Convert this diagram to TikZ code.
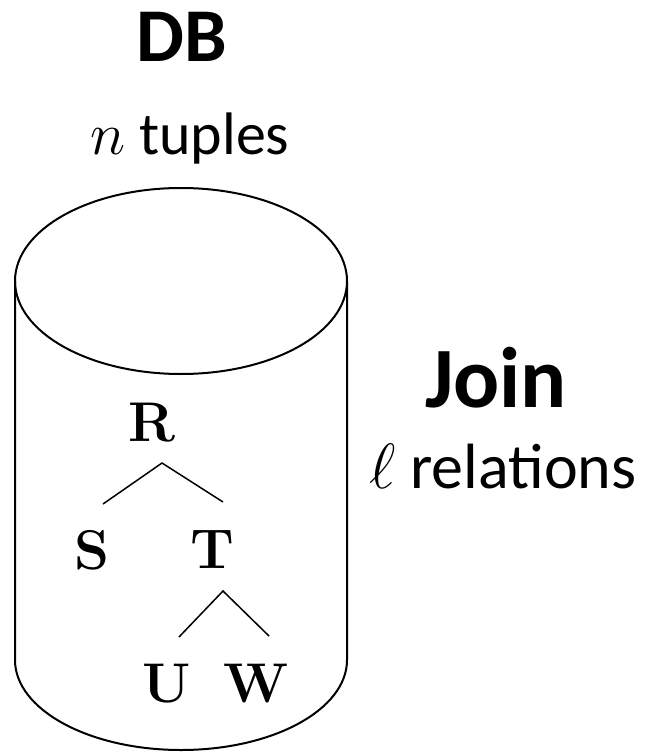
\RequirePackage{fix-cm}
\documentclass[tikz,border=0pt]{standalone}
\usepackage{fontspec}
\setmainfont{Carlito}
\newfontfamily\relfont{Latin Modern Roman}
\usepackage{tikz}
\usetikzlibrary{positioning}

\begin{document}
\begin{tikzpicture}[
  x=0.5pt, y=-0.5pt,
  title/.style={font=\fontsize{38}{40}\selectfont\bfseries, inner sep=0pt, anchor=base},
  caption/.style={font=\fontsize{30}{32}\selectfont, inner sep=0pt, anchor=base},
  rel/.style={font=\relfont\fontsize{28}{30}\selectfont\bfseries, inner sep=0pt, anchor=base},
  edge/.style={line width=0.75pt},
  db/.style={line width=1pt},
]
  \useasboundingbox (0,0) rectangle (647,753);

  % the database cylinder
  \draw[db] (181,281) ellipse [x radius=166, y radius=93];
  \draw[db] (15,281) -- (15,660)
    arc[start angle=180, end angle=0, x radius=166, y radius=90] -- (347,281);

  \node[title] (db) at (182,62) {DB};
  \node[caption] (tuples) at (190,155) {$n$ tuples};

  \node[title, font=\fontsize{43}{45}\selectfont\bfseries] (join) at (496,407) {Join};
  \node[caption, font=\fontsize{32}{34}\selectfont] (relations) at (503,488) {$\ell$ relations};

  % join tree
  \node[rel] (R) at (152,441) {R};
  \node[rel] (S) at (92,569) {S};
  \node[rel] (T) at (212,568) {T};
  \node[rel] (U) at (167,702) {U};
  \node[rel] (W) at (256,702) {W};

  \coordinate (r-fork) at (162,463);
  \coordinate (r-left) at (103,504);
  \coordinate (r-right) at (223,502);
  \coordinate (t-fork) at (223,591);
  \coordinate (t-left) at (179,637);
  \coordinate (t-right) at (269,636);

  \draw[edge] (r-left) -- (r-fork) -- (r-right);
  \draw[edge] (t-left) -- (t-fork) -- (t-right);
\end{tikzpicture}
\end{document}
